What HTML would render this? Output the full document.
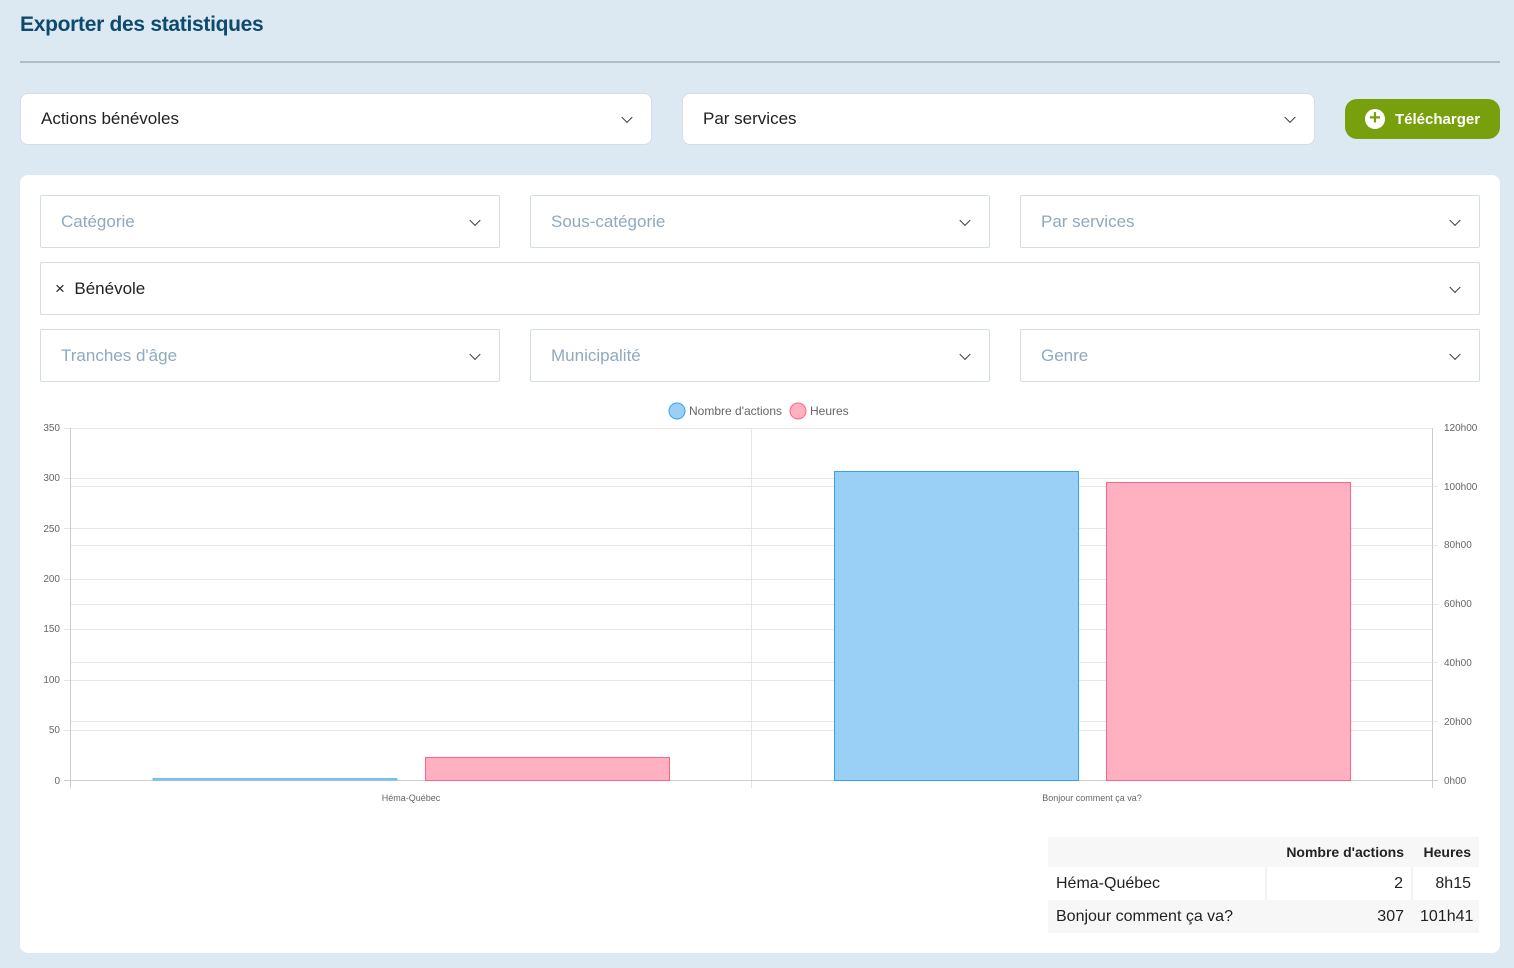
<!DOCTYPE html>
<html><head><meta charset="utf-8"><style>
body{margin:0;width:1514px;height:968px;background:#dce9f2;font-family:"Liberation Sans",sans-serif;position:relative;overflow:hidden}
h1{position:absolute;left:20px;top:13px;margin:0;font-size:21px;color:#0e4a6e;font-weight:bold;letter-spacing:-0.3px}
.hr{position:absolute;left:20px;top:61px;width:1480px;height:2px;background:#b2bcc5}
.sel{position:absolute;background:#fff;border:1px solid #d5dde5;border-radius:8px;box-sizing:border-box;font-size:17px;color:#222;display:flex;align-items:center;padding-left:20px}
.sel:after{content:"";position:absolute;right:20px;top:50%;width:7px;height:7px;border-right:1.6px solid #333;border-bottom:1.6px solid #333;transform:translateY(-70%) rotate(45deg)}
.f{border-radius:2px;color:#8fa9bf;border-color:#d3dde6}
.btn{position:absolute;left:1345px;top:99px;width:155px;height:40px;background:#78a00c;border-radius:12px;color:#fff;font-weight:bold;font-size:15px;display:flex;align-items:center;padding-left:50px;box-sizing:border-box}
.btn:before{content:"+";position:absolute;left:20px;top:10px;width:20px;height:20px;border-radius:50%;background:#fff;color:#78a00c;font-size:20px;line-height:19px;text-align:center}
.card{position:absolute;left:20px;top:175px;width:1480px;height:778px;background:#fff;border-radius:8px}
table{position:absolute;left:1048px;top:837px;width:431px;table-layout:fixed;border-collapse:collapse;font-size:16px;color:#222;background:#f7f7f7}
td,th{padding:0 8px;height:33px;white-space:nowrap;overflow:visible}
th{font-size:14px;text-align:right;height:30px}
tr.w{background:#fff}
</style></head><body>
<h1>Exporter des statistiques</h1>
<div class="hr"></div>
<div class="sel" style="left:20px;top:93px;width:632px;height:52px">Actions bénévoles</div>
<div class="sel" style="left:682px;top:93px;width:633px;height:52px">Par services</div>
<div class="btn">Télécharger</div>
<div class="card"></div>
<div class="sel f" style="left:40px;top:195px;width:460px;height:53px">Catégorie</div>
<div class="sel f" style="left:530px;top:195px;width:460px;height:53px">Sous-catégorie</div>
<div class="sel f" style="left:1020px;top:195px;width:460px;height:53px">Par services</div>
<div class="sel f" style="left:40px;top:262px;width:1440px;height:53px;padding-left:14px;color:#222">×&nbsp;&nbsp;Bénévole</div>
<div class="sel f" style="left:40px;top:329px;width:460px;height:53px">Tranches d'âge</div>
<div class="sel f" style="left:530px;top:329px;width:460px;height:53px">Municipalité</div>
<div class="sel f" style="left:1020px;top:329px;width:460px;height:53px">Genre</div>
<svg style="position:absolute;left:0;top:0" width="1514" height="968" font-family="Liberation Sans,sans-serif">
<g stroke="#e6e6e6" stroke-width="1">
<line x1="64" x2="1432" y1="428.5" y2="428.5"/><line x1="64" x2="1432" y1="478.5" y2="478.5"/><line x1="64" x2="1432" y1="528.5" y2="528.5"/><line x1="64" x2="1432" y1="579.5" y2="579.5"/><line x1="64" x2="1432" y1="629.5" y2="629.5"/><line x1="64" x2="1432" y1="680.5" y2="680.5"/><line x1="64" x2="1432" y1="730.5" y2="730.5"/>
<line x1="70" x2="1438" y1="486.5" y2="486.5"/><line x1="70" x2="1438" y1="545.5" y2="545.5"/><line x1="70" x2="1438" y1="604.5" y2="604.5"/><line x1="70" x2="1438" y1="662.5" y2="662.5"/><line x1="70" x2="1438" y1="721.5" y2="721.5"/>
<line x1="751.5" x2="751.5" y1="428" y2="788"/>
</g>
<g stroke="#ccc"><line x1="70.5" x2="70.5" y1="428" y2="788"/><line x1="1432.5" x2="1432.5" y1="428" y2="788"/><line x1="64" x2="1438" y1="780.5" y2="780.5"/></g>
<rect x="153" y="778.5" width="244" height="1.5" fill="#9ad0f5" stroke="#36a2eb" stroke-width="0.6"/>
<rect x="425.5" y="757.5" width="244" height="23" fill="#ffb1c1" stroke="#ff6384"/>
<rect x="834.5" y="471.5" width="244" height="309" fill="#9ad0f5" stroke="#36a2eb"/>
<rect x="1106.5" y="482.5" width="244" height="298" fill="#ffb1c1" stroke="#ff6384"/>
<g font-size="10" fill="#666" text-anchor="end">
<text x="60" y="431">350</text><text x="60" y="481">300</text><text x="60" y="532">250</text><text x="60" y="582">200</text><text x="60" y="632">150</text><text x="60" y="683">100</text><text x="60" y="733">50</text><text x="60" y="784">0</text></g>
<g font-size="10" fill="#666">
<text x="1444" y="431">120h00</text><text x="1444" y="490">100h00</text><text x="1444" y="548">80h00</text><text x="1444" y="607">60h00</text><text x="1444" y="666">40h00</text><text x="1444" y="725">20h00</text><text x="1444" y="784">0h00</text></g>
<g font-size="9" fill="#666" text-anchor="middle"><text x="411" y="801">Héma-Québec</text><text x="1092" y="801">Bonjour comment ça va?</text></g>
<circle cx="677" cy="411" r="8" fill="#9ad0f5" stroke="#36a2eb"/><text x="689" y="415" font-size="12" fill="#666">Nombre d'actions</text>
<circle cx="798" cy="411" r="8" fill="#ffb1c1" stroke="#ff6384"/><text x="810" y="415" font-size="12" fill="#666">Heures</text>
</svg>
<table>
<colgroup><col style="width:218px"><col style="width:146px"><col style="width:67px"></colgroup>
<tr><th></th><th>Nombre d'actions</th><th>Heures</th></tr>
<tr class="w"><td>Héma-Québec</td><td style="text-align:right;border-left:2px solid #f3f3f3">2</td><td style="text-align:right;border-left:2px solid #f3f3f3">8h15</td></tr>
<tr><td>Bonjour comment ça va?</td><td style="text-align:right">307</td><td style="text-align:right">101h41</td></tr>
</table>
</body></html>
